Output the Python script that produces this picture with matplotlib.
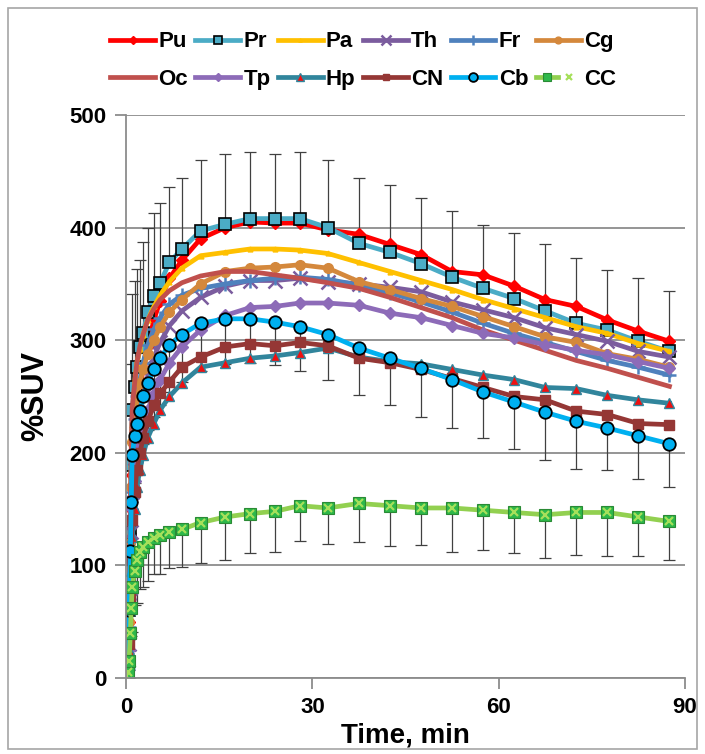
import matplotlib
matplotlib.use("Agg")
import matplotlib.pyplot as plt
from matplotlib.patches import Rectangle
from matplotlib.legend_handler import HandlerTuple
import numpy as np

# frame mid-times, min
t = [0.05, 0.3, 0.5, 0.7, 0.85, 1.0, 1.4, 1.75, 2.25, 2.75, 3.5, 4.5, 5.5, 7, 9,
     12, 16, 20, 24, 28, 32.5, 37.5, 42.5, 47.5, 52.5, 57.5, 62.5, 67.5, 72.5,
     77.5, 82.5, 87.5]

# %SUV per region
Pu = [2, 10, 50, 110, 150, 180, 210, 235, 255, 275, 295, 318, 335, 355, 371,
      390, 400, 405, 404, 404, 398, 394, 385, 376, 361, 358, 348, 336, 330, 318, 308, 299]
Pr = [2, 12, 60, 129, 189, 238, 258, 276, 294, 306, 325, 339, 351, 369, 381,
      397, 403, 408, 408, 408, 400, 386, 378, 368, 356, 346, 337, 326, 315, 309, 299, 290]
Pa = [2, 12, 60, 130, 190, 225, 262, 280, 292, 305, 318, 330, 340, 352, 364,
      375, 378, 381, 381, 380, 377, 369, 361, 353, 345, 336, 328, 320, 312, 306, 297, 290]
Th = [1, 5, 30, 80, 130, 165, 195, 218, 235, 250, 268, 285, 298, 313, 326,
      338, 348, 353, 353, 355, 352, 350, 347, 343, 334, 327, 320, 311, 305, 299, 290, 285]
Fr = [1, 8, 45, 110, 165, 200, 230, 250, 265, 280, 296, 310, 320, 332, 340,
      346, 350, 353, 355, 356, 354, 349, 342, 334, 325, 315, 306, 298, 290, 282, 276, 269]
Cg = [1, 8, 50, 120, 170, 210, 232, 248, 262, 274, 288, 300, 312, 325, 336,
      350, 361, 364, 365, 367, 364, 352, 345, 337, 330, 321, 312, 303, 298, 288, 283, 276]
Oc = [2, 12, 70, 150, 205, 240, 262, 280, 295, 305, 318, 328, 336, 344, 351,
      357, 361, 361, 358, 355, 351, 346, 338, 329, 320, 309, 300, 291, 282, 275, 267, 259]
Tp = [1, 5, 25, 70, 115, 150, 175, 192, 207, 220, 238, 252, 265, 280, 294,
      309, 322, 329, 330, 333, 333, 331, 324, 320, 313, 306, 302, 296, 291, 287, 281, 275]
Hp = [1, 5, 25, 60, 95, 125, 150, 170, 185, 198, 213, 226, 238, 250, 262,
      276, 280, 284, 286, 289, 293, 285, 281, 279, 274, 269, 265, 258, 257, 251, 247, 244]
CN = [1, 6, 30, 70, 105, 140, 165, 185, 200, 213, 228, 242, 253, 263, 276,
      285, 294, 297, 295, 298, 295, 284, 280, 274, 266, 258, 250, 247, 237, 234, 226, 225]
Cb = [2, 15, 60, 113, 156, 198, 215, 226, 237, 250, 262, 274, 284, 296, 305,
      315, 319, 319, 316, 312, 305, 293, 284, 275, 265, 254, 245, 236, 228, 222, 215, 208]
CC = [2, 5, 15, 40, 62, 81, 95, 105, 112, 116, 121, 124, 127, 130, 132,
      138, 143, 146, 148, 153, 151, 155, 153, 151, 151, 149, 147, 145, 147, 147, 143, 139]

# standard deviations (only shown one-sided)
Pr_sd = [2, 10, 40, 70, 90, 103, 95, 87, 77, 81, 75, 74, 71, 67, 63,
         63, 62, 59, 57, 59, 60, 58, 60, 58, 59, 56, 58, 59, 58, 53, 56, 54]
Cb_sd = [1, 8, 25, 35, 40, 42, 42, 42, 42, 42, 42, 42, 42, 42, 42,
         42, 40, 39, 38, 39, 40, 42, 42, 43, 43, 41, 42, 42, 42, 37, 38, 38]
CC_sd = [1, 3, 8, 15, 25, 40, 30, 38, 33, 35, 35, 32, 35, 32, 33,
         36, 38, 35, 36, 31, 32, 34, 36, 33, 39, 35, 36, 38, 38, 39, 35, 34]

plt.rcParams['font.family'] = ['Liberation Sans', 'DejaVu Sans']

fig = plt.figure(figsize=(7.05, 7.54), dpi=100)
ax = fig.add_axes([0.1787, 0.1008, 0.7929, 0.7467])
fig.patches.append(Rectangle((0.011, 0.006), 0.978, 0.983, transform=fig.transFigure,
                             fill=False, edgecolor='#a6a6a6', lw=1.2))

tt = np.array(t)
zero = np.zeros(len(t))
eb = dict(fmt='none', ecolor='#404040', elinewidth=0.9, capsize=4, capthick=0.9, zorder=1.5)
ax.errorbar(tt, Pr, yerr=[zero, Pr_sd], **eb)
ax.errorbar(tt, Cb, yerr=[Cb_sd, zero], **eb)
ax.errorbar(tt, CC, yerr=[CC_sd, zero], **eb)

lw = 3.4
h = {}
h['Pu'], = ax.plot(tt, Pu, color='#ff0000', lw=lw, marker='D', ms=6, zorder=2)
h['Pr'], = ax.plot(tt, Pr, color='#4bacc6', lw=lw, marker='s', ms=8.5,
                   mfc='#4bacc6', mec='black', mew=1.2, zorder=2)
h['Pa'], = ax.plot(tt, Pa, color='#ffc000', lw=lw, marker='^', ms=3.5, zorder=2)
h['Th'], = ax.plot(tt, Th, color='#7b5c9e', lw=lw, marker='x', ms=10, mew=1.8, zorder=2)
h['Fr'], = ax.plot(tt, Fr, color='#4f81bd', lw=lw, marker='+', ms=10, mew=1.8, zorder=2)
h['Cg'], = ax.plot(tt, Cg, color='#d4883c', lw=lw, marker='o', ms=7, zorder=2)
h['Oc'], = ax.plot(tt, Oc, color='#c0504d', lw=lw, zorder=2)
h['Tp'], = ax.plot(tt, Tp, color='#8d6bb8', lw=lw, marker='D', ms=6, zorder=2)
h['Hp'], = ax.plot(tt, Hp, color='#31859c', lw=lw, marker='^', ms=7.5,
                   mfc='#ee1111', mec='#31859c', mew=1, zorder=2)
h['CN'], = ax.plot(tt, CN, color='#953735', lw=lw, marker='s', ms=6.5, zorder=2)
h['Cb'], = ax.plot(tt, Cb, color='#00b0f0', lw=lw, marker='o', ms=9,
                   mfc='#00b0f0', mec='black', mew=1.3, zorder=2)
cc_line, = ax.plot(tt, CC, color='#92d050', lw=lw, marker='s', ms=8.5,
                   mfc='#2eb84a', mec='#2a8a35', mew=0.8, zorder=2)
cc_x, = ax.plot(tt, CC, ls='none', marker='x', ms=6, mew=1.6, color='#a6e05a', zorder=2.1)
h['CC'] = (cc_line, cc_x)

ax.set_xlim(0, 90)
ax.set_ylim(0, 500)
ax.set_xticks([0, 30, 60, 90])
ax.set_yticks([0, 100, 200, 300, 400, 500])
ax.yaxis.grid(True, color='#8c8c8c', lw=1.3)
ax.set_axisbelow(True)
for s in ['top', 'right']:
    ax.spines[s].set_visible(False)
for s in ['left', 'bottom']:
    ax.spines[s].set_color('#8c8c8c')
    ax.spines[s].set_linewidth(1.3)
ax.tick_params(axis='both', direction='out', length=8, width=1.3, color='#8c8c8c', pad=6)
for lab in ax.get_yticklabels():
    lab.set_fontsize(16)
    lab.set_fontweight('bold')
for lab in ax.get_xticklabels():
    lab.set_fontsize(16)
    lab.set_fontweight('bold')

ax.set_ylabel('%SUV', fontsize=22, fontweight='bold', labelpad=14)
ax.set_xlabel('Time, min', fontsize=20, fontweight='bold', labelpad=3)

# legend filled row by row (matplotlib fills columns first)
row1 = ['Pu', 'Pr', 'Pa', 'Th', 'Fr', 'Cg']
row2 = ['Oc', 'Tp', 'Hp', 'CN', 'Cb', 'CC']
order = [n for pair in zip(row1, row2) for n in pair]
leg = fig.legend([h[n] for n in order], order, loc='upper center',
                 bbox_to_anchor=(0.515, 0.985), ncol=6, frameon=False,
                 handlelength=2.0, handletextpad=0.15, columnspacing=0.35,
                 labelspacing=0.75, markerscale=0.7,
                 handler_map={tuple: HandlerTuple(ndivide=None, pad=0)},
                 prop={'weight': 'bold', 'size': 16})

fig.savefig('out.png', dpi=100)
